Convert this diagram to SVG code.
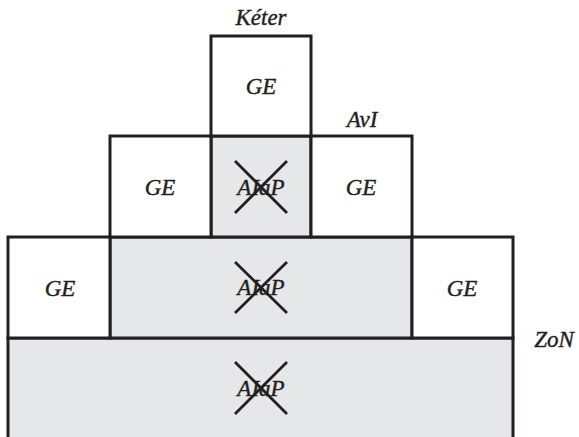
<svg xmlns="http://www.w3.org/2000/svg" width="579" height="437" viewBox="0 0 579 437">
<style>
.w{fill:#ffffff;stroke:#231f20;stroke-width:3}
.g{fill:#e6e7e8;stroke:#231f20;stroke-width:3}
.t{font-family:"Liberation Serif",serif;font-style:italic;font-size:23px;fill:#231f20;stroke:#231f20;stroke-width:0.4;text-anchor:middle}
.x{stroke:#231f20;stroke-width:2.8;fill:none}
</style>
<rect width="579" height="437" fill="#ffffff"/>
<g id="bottom">
<rect class="g" x="8" y="338" width="505" height="110"/>
<text class="t" x="261" y="396">AIaP</text>
<path class="x" d="M235,362 L287,414 M287,362 L235,414"/>
</g>
<g id="row3-center">
<rect class="g" x="110" y="237" width="302" height="101"/>
<text class="t" x="261" y="295">AIaP</text>
<path class="x" d="M235,262 L287,313 M287,262 L235,313"/>
</g>
<g id="row3-left">
<rect class="w" x="8" y="237" width="102" height="101"/>
<text class="t" x="60" y="296">GE</text>
</g>
<g id="row3-right">
<rect class="w" x="412" y="237" width="101" height="101"/>
<text class="t" x="462" y="296">GE</text>
</g>
<g id="row2-center">
<rect class="g" x="211" y="136" width="100" height="101"/>
<text class="t" x="261" y="195">AIaP</text>
<path class="x" d="M235,161 L287,213 M287,161 L235,213"/>
</g>
<g id="row2-left">
<rect class="w" x="110" y="136" width="101" height="101"/>
<text class="t" x="160" y="195">GE</text>
</g>
<g id="row2-right">
<rect class="w" x="311" y="136" width="101" height="101"/>
<text class="t" x="361" y="195">GE</text>
</g>
<g id="top">
<rect class="w" x="211" y="36" width="100" height="100"/>
<text class="t" x="261" y="94">GE</text>
</g>
<g id="labels">
<text class="t" x="261" y="25">Kéter</text>
<text class="t" x="362" y="127">AvI</text>
<text class="t" x="554" y="347">ZoN</text>
</g>
</svg>
